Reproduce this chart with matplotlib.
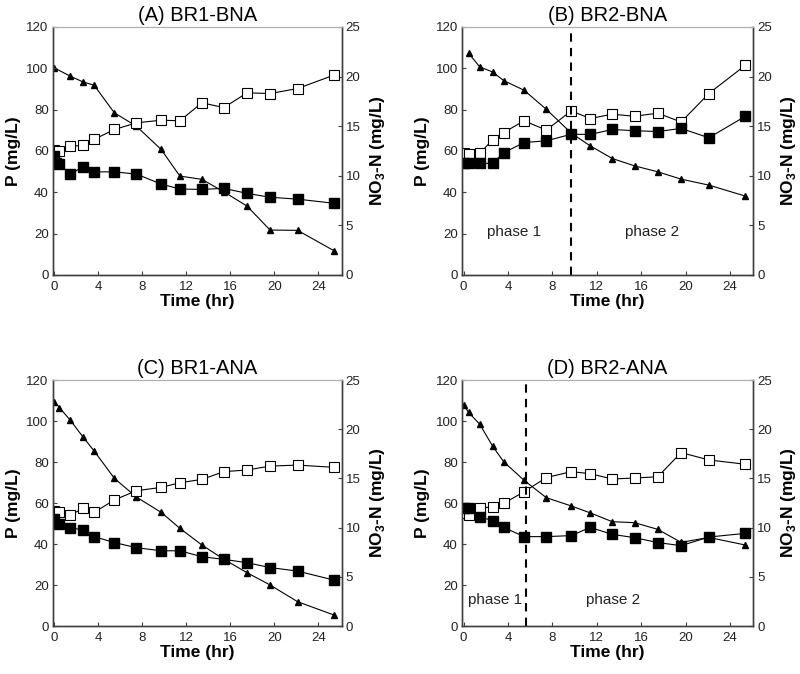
import matplotlib
matplotlib.use("Agg")
import matplotlib.pyplot as plt

plt.rcParams['font.family'] = ['Liberation Sans', 'DejaVu Sans']
plt.rcParams['mathtext.fontset'] = 'custom'
plt.rcParams['mathtext.rm'] = 'Liberation Sans'
plt.rcParams['mathtext.bf'] = 'Liberation Sans:bold'

# sampling times (hr)
T = [0, 0.45, 1.45, 2.6, 3.6, 5.45, 7.45, 9.7, 11.4, 13.4, 15.4, 17.5, 19.6, 22.1, 25.4]

# (A) BR1-BNA
a_open = [60.4, 60.1, 62.3, 62.7, 65.6, 70.4, 73.6, 74.9, 74.6, 83.3, 81.0, 88.1, 87.8, 90.2, 96.7]
a_fill_t = [0, 0.1, 0.45, 1.45, 2.6, 3.6, 5.45, 7.45, 9.7, 11.4, 13.4, 15.4, 17.5, 19.6, 22.1, 25.4]
a_fill = [57.5, 54.0, 53.6, 48.8, 52.4, 49.9, 49.9, 48.8, 44.0, 41.6, 41.4, 41.9, 39.5, 37.6, 36.7, 34.7]
a_tri_t = [0, 1.45, 2.6, 3.6, 5.45, 7.45, 9.7, 11.4, 13.4, 15.4, 17.5, 19.6, 22.1, 25.4]
a_tri = [20.87, 20.03, 19.46, 19.13, 16.34, 15.0, 12.65, 9.97, 9.64, 8.38, 6.95, 4.53, 4.5, 2.45]

# (B) BR2-BNA
b_open = [59.1, 58.3, 58.8, 65.4, 68.9, 74.6, 70.1, 79.4, 75.7, 77.8, 76.8, 78.3, 74.0, 87.8, 101.5]
b_fill = [54.3, 54.0, 54.0, 54.0, 59.1, 64.1, 64.9, 68.1, 68.0, 70.4, 69.8, 69.4, 70.9, 66.4, 76.8]
b_tri_t = T[1:]
b_tri = [22.35, 20.97, 20.47, 19.6, 18.62, 16.7, 14.3, 13.02, 11.74, 11.0, 10.4, 9.66, 9.06, 7.95]

# (C) BR1-ANA
c_open = [56.1, 55.4, 54.1, 57.4, 55.4, 61.5, 66.0, 67.6, 69.9, 71.5, 75.3, 76.1, 78.0, 78.5, 77.4]
c_fill = [52.0, 49.9, 48.0, 46.8, 43.6, 40.7, 38.2, 36.7, 36.7, 33.8, 32.5, 30.9, 28.5, 26.8, 22.4]
c_tri = [22.8, 22.2, 20.9, 19.2, 17.8, 15.0, 13.1, 11.55, 9.93, 8.23, 6.78, 5.42, 4.17, 2.47, 1.12]

# (D) BR2-ANA
d_open = [55.0, 54.1, 57.4, 58.2, 59.8, 65.5, 72.4, 75.3, 74.3, 71.7, 72.2, 72.8, 84.6, 81.0, 78.9]
d_fill = [57.7, 57.4, 53.3, 51.4, 48.1, 43.6, 43.6, 44.1, 48.1, 44.7, 43.1, 40.7, 39.2, 43.4, 45.2]
d_tri = [22.46, 21.7, 20.5, 18.3, 16.7, 14.8, 13.04, 12.2, 11.5, 10.6, 10.5, 9.82, 8.5, 9.0, 8.23]

titles = ['(A) BR1-BNA', '(B) BR2-BNA', '(C) BR1-ANA', '(D) BR2-ANA']
phase_split = [None, 9.7, None, 5.6]
phase_pos = [None, [(4.5, 21), (17.0, 21)], None, [(2.8, 12.7), (13.5, 12.7)]]

fig = plt.figure(figsize=(8, 6.74), dpi=100)
boxes = [[0.066, 0.592, 0.361, 0.368], [0.5775, 0.592, 0.364, 0.368],
         [0.066, 0.0712, 0.361, 0.365], [0.5775, 0.0712, 0.364, 0.365]]

panels = [
    (T, a_open, a_fill_t, a_fill, a_tri_t, a_tri),
    (T, b_open, T, b_fill, b_tri_t, b_tri),
    (T, c_open, T, c_fill, T, c_tri),
    (T, d_open, T, d_fill, T, d_tri),
]

for i, (to, po, tf, pf, tt, nt) in enumerate(panels):
    ax = fig.add_axes(boxes[i])
    ax2 = ax.twinx()
    ax.set_zorder(ax2.get_zorder() + 1)
    ax.patch.set_visible(False)

    ax2.plot(tt, nt, '-', color='black', lw=0.8, marker='^', ms=5,
             mfc='black', mec='black')
    ax.plot(to, po, '-', color='black', lw=0.8, marker='s', ms=6.5,
            mfc='white', mec='black', mew=0.8)
    ax.plot(tf, pf, '-', color='black', lw=0.8, marker='s', ms=6.5,
            mfc='black', mec='black')

    ax.set_xlim(-0.15, 26.1)
    ax.set_ylim(0, 120)
    ax2.set_ylim(0, 25)
    ax.set_xticks(range(0, 25, 4))
    ax.set_yticks(range(0, 121, 20))
    ax2.set_yticks(range(0, 26, 5))

    for a in (ax, ax2):
        a.tick_params(direction='in', length=3, width=0.8, labelsize=9.5,
                      colors='#404040', labelcolor='#222222', pad=3)
        for s in ('left', 'bottom', 'right'):
            a.spines[s].set_color('#404040')
            a.spines[s].set_linewidth(1.0)
        a.spines['top'].set_color('#b0b0b0')
    ax.tick_params(axis='x', pad=4)

    ax.set_title(titles[i], fontsize=14.5, pad=4)
    ax.set_xlabel('Time (hr)', fontsize=12.5, fontweight='bold', labelpad=1)
    ax.set_ylabel('P (mg/L)', fontsize=12.5, fontweight='bold', labelpad=4)
    ax2.set_ylabel(r'NO$_{\mathbf{3}}$-N (mg/L)', fontsize=12.5,
                   fontweight='bold', labelpad=5)

    if phase_split[i] is not None:
        ax.axvline(phase_split[i], color='black', lw=1.5, ls=(0, (4, 3)))
        for k, (px, py) in enumerate(phase_pos[i]):
            ax.text(px, py, 'phase %d' % (k + 1), fontsize=11,
                    ha='center', va='center', color='#222222')

fig.savefig('out.png', dpi=100)
